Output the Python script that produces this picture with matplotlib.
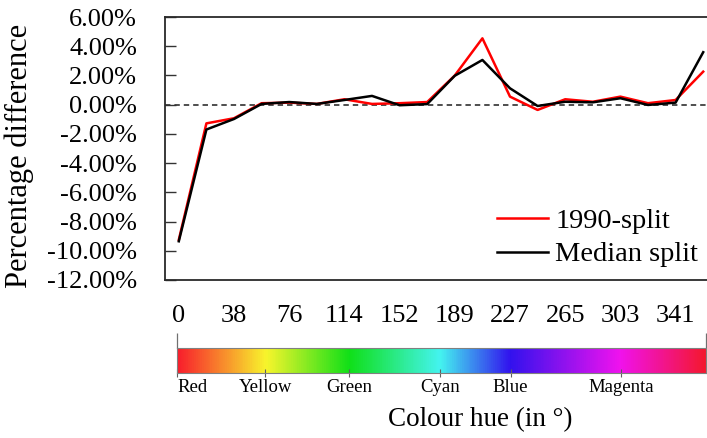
import numpy as np
import matplotlib
matplotlib.use("Agg")
import matplotlib.pyplot as plt
from matplotlib.colors import LinearSegmentedColormap

plt.rcParams['font.family'] = ['Liberation Serif', 'DejaVu Serif']

# Hue categories (20 steps round the colour wheel)
hue_deg = [0, 19, 38, 57, 76, 95, 114, 133, 152, 171,
           189, 208, 227, 246, 265, 284, 303, 322, 341, 360]

# Percentage difference per hue category
split_1990 = [-9.25, -1.28, -0.93, 0.10, 0.14, 0.05, 0.37, 0.05, 0.10, 0.18,
              2.00, 4.54, 0.55, -0.36, 0.37, 0.20, 0.55, 0.10, 0.32, 2.26]
median_split = [-9.35, -1.70, -0.98, 0.05, 0.18, 0.05, 0.32, 0.60, -0.04, 0.04,
                1.98, 3.06, 1.12, -0.09, 0.20, 0.16, 0.44, -0.02, 0.14, 3.59]

y_ticks = [-12, -10, -8, -6, -4, -2, 0, 2, 4, 6]

# Named hues on the colour bar and where they sit (degrees)
hue_names = ['Red', 'Yellow', 'Green', 'Cyan', 'Blue', 'Magenta']
hue_name_deg = [0, 60, 117, 179, 227, 302]
bar_colours = ['#f81e2c', '#f8f52c', '#10e018', '#44f4f0', '#3212ee', '#f012ee', '#f41830']

W, H = 707, 438
fig = plt.figure(figsize=(W / 100, H / 100), dpi=100)

# main line chart
ax = fig.add_axes([165 / W, 1 - 280 / H, 552 / W, 263 / H])
x = np.arange(len(hue_deg))
ax.axhline(0, color='#404040', lw=1.3, ls=(0, (3, 2.2)), zorder=1)
ax.plot(x, split_1990, color='#ff0000', lw=1.8, label='1990-split', zorder=2)
ax.plot(x, median_split, color='black', lw=1.8, label='Median split', zorder=3)

ax.set_xlim(-0.5, len(hue_deg) - 0.5)
ax.set_ylim(-12, 6)
ax.set_yticks(y_ticks)
ax.set_yticklabels([f'{v:.2f}%' for v in y_ticks])
ax.set_xticks(x[::2])
ax.set_xticklabels([str(h) for h in hue_deg[::2]])
ax.tick_params(axis='y', direction='in', length=8, width=1, color='#333333',
               labelsize=19, pad=20)
ax.tick_params(axis='x', length=0, labelsize=19, pad=18)
ax.spines['right'].set_visible(False)
for side in ('left', 'top', 'bottom'):
    ax.spines[side].set_color('#2a2a2a')
    ax.spines[side].set_linewidth(1.3)

ax.set_ylabel('Percentage difference', fontsize=22)
ax.yaxis.set_label_coords(-0.238, 0.47)

ax.legend(loc='center left', bbox_to_anchor=(497 / W, 1 - 238 / H),
          bbox_transform=fig.transFigure, frameon=False, fontsize=20.5,
          handlelength=1.8, handletextpad=0.25, labelspacing=0.25,
          borderpad=0, borderaxespad=0)

# hue colour bar underneath
cax = fig.add_axes([177 / W, 1 - 373 / H, 529 / W, 25 / H])
stops = [d / 360 for d in hue_name_deg] + [1.0]
cmap = LinearSegmentedColormap.from_list('hue_bar', list(zip(stops, bar_colours)))
grad = np.linspace(0, 1, 720).reshape(1, -1)
cax.imshow(grad, cmap=cmap, aspect='auto', extent=(0, 360, 0, 1))
cax.set_xlim(0, 360)
cax.set_yticks([])
for side in cax.spines.values():
    side.set_color('#808080')
    side.set_linewidth(0.8)

cax.set_xticks(hue_name_deg)
cax.set_xticklabels(hue_names)
cax.tick_params(axis='x', direction='inout', length=6, width=0.8,
                color='#606060', labelsize=13.5, pad=1)
cax.get_xticklabels()[0].set_ha('left')

top = cax.secondary_xaxis('top')
top.set_xticks([0, 360])
top.tick_params(length=11, width=0.9, color='#707070', labeltop=False)
top.spines['top'].set_visible(False)

cax.set_xlabel('Colour hue (in °)', fontsize=19.5)
cax.xaxis.set_label_coords(0.573, -1.36)

fig.savefig('out.png', dpi=100)
